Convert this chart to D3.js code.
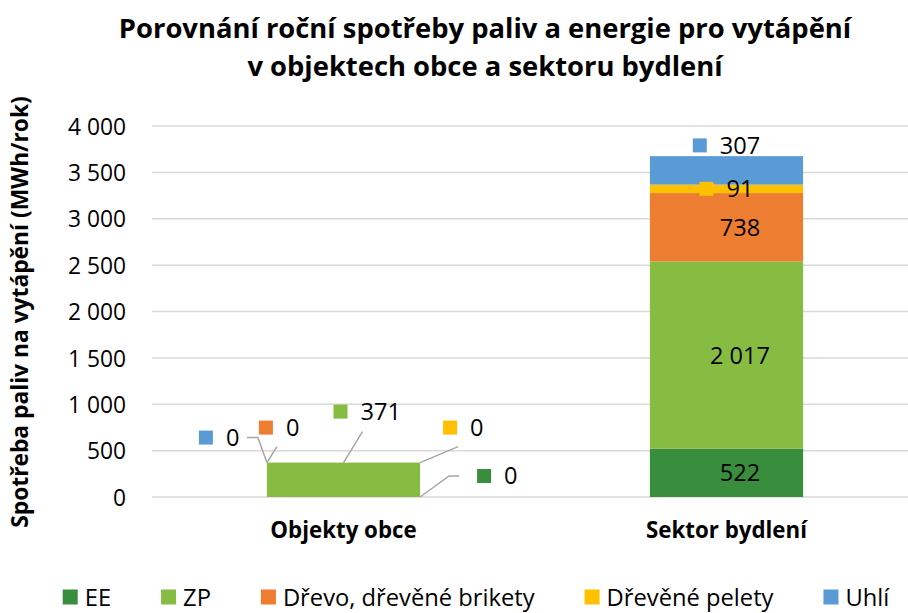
<!DOCTYPE html>
<html>
<head>
<meta charset="utf-8">
<script src="https://cdn.jsdelivr.net/npm/d3@7"></script>
<style>
    body { margin: 0; background: #fff; }
    svg { display: block; font-family: "Open Sans", Roboto, sans-serif; }
</style>
</head>
<body>
<svg id="chart" width="908" height="613"></svg>
<script>
// data
const categories = ['Objekty obce', 'Sektor bydlení'];
const seriesNames = ['EE', 'ZP', 'Dřevo, dřevěné brikety', 'Dřevěné pelety', 'Uhlí'];
const seriesColors = ['#388E3C', '#86BC42', '#ED7D31', '#FFC000', '#5B9BD5'];
const eeValues = [0, 522];
const zpValues = [371, 2017];
const drevoValues = [0, 738];
const peletyValues = [0, 91];
const uhliValues = [0, 307];
const yTicks = [0, 500, 1000, 1500, 2000, 2500, 3000, 3500, 4000];
const titleLines = ['Porovnání roční spotřeby paliv a energie pro vytápění', 'v objektech obce a sektoru bydlení'];
const yTitle = 'Spotřeba paliv na vytápění (MWh/rok)';

const seriesValues = [eeValues, zpValues, drevoValues, peletyValues, uhliValues];

const svg = d3.select('#chart');
const fmt = d3.formatLocale({decimal: ',', thousands: ' ', grouping: [3], currency: ['', '']}).format(',d');

// pick a font size so a sample string gets the width it has in the reference (Calibri there)
function fitSize(str, weight, target) {
    const t = svg.append('text').attr('font-size', 100).attr('font-weight', weight).text(str);
    const w = t.node().getComputedTextLength();
    t.remove();
    return 100 * target / w;
}
const titleSize = fitSize(titleLines[0], 'bold', 733);
const tickSize = fitSize('4 000', 'normal', 58);
const catSize = fitSize('Sektor bydlení', 'bold', 161);
const yTitleSize = fitSize(yTitle, 'bold', 432);
const legendSize = fitSize('Dřevěné pelety', 'normal', 167);
const labelSize = fitSize('2 017', 'normal', 60);

const x = d3.scaleBand()
    .domain(categories)
    .range([152, 918])
    .paddingInner(0.6)
    .paddingOuter(0.3);
const y = d3.scaleLinear()
    .domain([0, 4000])
    .range([497, 126]);

// table for stacking
const table = categories.map((c, i) => {
    const row = {category: c};
    seriesNames.forEach((s, j) => { row[s] = seriesValues[j][i]; });
    return row;
});
const stacked = d3.stack().keys(seriesNames)(table);

// title
svg.append('g').selectAll('text')
    .data(titleLines)
    .enter()
    .append('text')
    .attr('x', 485)
    .attr('y', (d, i) => 38 + i * 38)
    .attr('text-anchor', 'middle')
    .attr('font-size', titleSize)
    .attr('font-weight', 'bold')
    .attr('fill', '#000')
    .text(d => d);

// gridlines
svg.append('g').selectAll('line')
    .data(yTicks)
    .enter()
    .append('line')
    .attr('x1', 152)
    .attr('x2', 908)
    .attr('y1', d => y(d))
    .attr('y2', d => y(d))
    .attr('stroke', '#d9d9d9')
    .attr('stroke-width', 1.5);

// y axis labels
const yAxis = svg.append('g')
    .attr('transform', 'translate(126,0)')
    .call(d3.axisLeft(y).tickValues(yTicks).tickFormat(fmt).tickSize(0).tickPadding(0));
yAxis.select('.domain').remove();
yAxis.selectAll('text')
    .attr('font-family', '"Open Sans", Roboto, sans-serif')
    .attr('font-size', tickSize)
    .attr('dy', '0.36em')
    .attr('fill', '#000');

svg.append('text')
    .attr('transform', 'translate(28,312) rotate(-90)')
    .attr('text-anchor', 'middle')
    .attr('font-size', yTitleSize)
    .attr('font-weight', 'bold')
    .attr('fill', '#000')
    .text(yTitle);

// x axis labels
svg.append('g').selectAll('text')
    .data(categories)
    .enter()
    .append('text')
    .attr('x', d => x(d) + x.bandwidth() / 2)
    .attr('y', 538)
    .attr('text-anchor', 'middle')
    .attr('font-size', catSize)
    .attr('font-weight', 'bold')
    .attr('fill', '#000')
    .text(d => d);

// bars
stacked.forEach((layer, j) => {
    svg.append('g').selectAll('rect')
        .data(layer)
        .enter()
        .append('rect')
        .attr('x', d => x(d.data.category))
        .attr('y', d => y(d[1]))
        .attr('width', x.bandwidth())
        .attr('height', d => y(d[0]) - y(d[1]))
        .attr('fill', seriesColors[j]);
});

// data labels: key square + value
function drawLabel(g, j, value) {
    g.append('rect')
        .attr('x', 0)
        .attr('y', -7)
        .attr('width', 14)
        .attr('height', 14)
        .attr('fill', seriesColors[j]);
    const t = g.append('text')
        .attr('x', 27)
        .attr('y', labelSize * 0.36)
        .attr('font-size', labelSize)
        .attr('fill', '#000')
        .text(fmt(value));
    return 27 + t.node().getComputedTextLength();
}

// Objekty obce: callouts with leader lines
const calloutDx = [57, -10, -8, 23, -68];
const calloutDy = [-21, -51, -35, -35, -25];
const anchorSide = ['right', 'middle', 'left', 'right', 'left'];
const anchorTop = [false, true, true, true, true];
const leaderPts = [
    [[29, -21], [39, -21]],
    [[19, -31]],
    [[10, -16]],
    [[38, -16]],
    [[-9, -25], [-20, -25]]
];
const c0 = categories[0];
seriesNames.forEach((s, j) => {
    const ax = anchorSide[j] === 'left' ? x(c0) : anchorSide[j] === 'right' ? x(c0) + x.bandwidth() : x(c0) + x.bandwidth() / 2;
    const ay = anchorTop[j] ? y(d3.sum(seriesValues, v => v[0])) : y(0);
    const pts = [[ax, ay]].concat(leaderPts[j].map(p => [ax + p[0], ay + p[1]]));
    svg.append('path')
        .attr('d', d3.line()(pts))
        .attr('fill', 'none')
        .attr('stroke', '#a6a6a6')
        .attr('stroke-width', 1.5);
    const g = svg.append('g').attr('transform', `translate(${ax + calloutDx[j]},${ay + calloutDy[j]})`);
    drawLabel(g, j, seriesValues[j][0]);
});

// Sektor bydlení: centered labels
const c1 = categories[1];
const labelShift = [0, 0, 0, 0, -25];
stacked.forEach((layer, j) => {
    const d = layer[1];
    const cy = (y(d[0]) + y(d[1])) / 2 + labelShift[j];
    const g = svg.append('g');
    const w = drawLabel(g, j, seriesValues[j][1]);
    g.attr('transform', `translate(${x(c1) + x.bandwidth() / 2 - w / 2},${cy})`);
});

// legend
const legend = svg.append('g');
let lx = 0;
seriesNames.forEach((s, j) => {
    const item = legend.append('g').attr('transform', `translate(${lx},0)`);
    item.append('rect')
        .attr('x', 0)
        .attr('y', -7.5)
        .attr('width', 15)
        .attr('height', 15)
        .attr('fill', seriesColors[j]);
    const t = item.append('text')
        .attr('x', 22)
        .attr('y', legendSize * 0.36)
        .attr('font-size', legendSize)
        .attr('fill', '#000')
        .text(s);
    lx += 22 + t.node().getComputedTextLength() + 50;
});
lx -= 50;
legend.attr('transform', `translate(${476 - lx / 2},597)`);
</script>
</body>
</html>
